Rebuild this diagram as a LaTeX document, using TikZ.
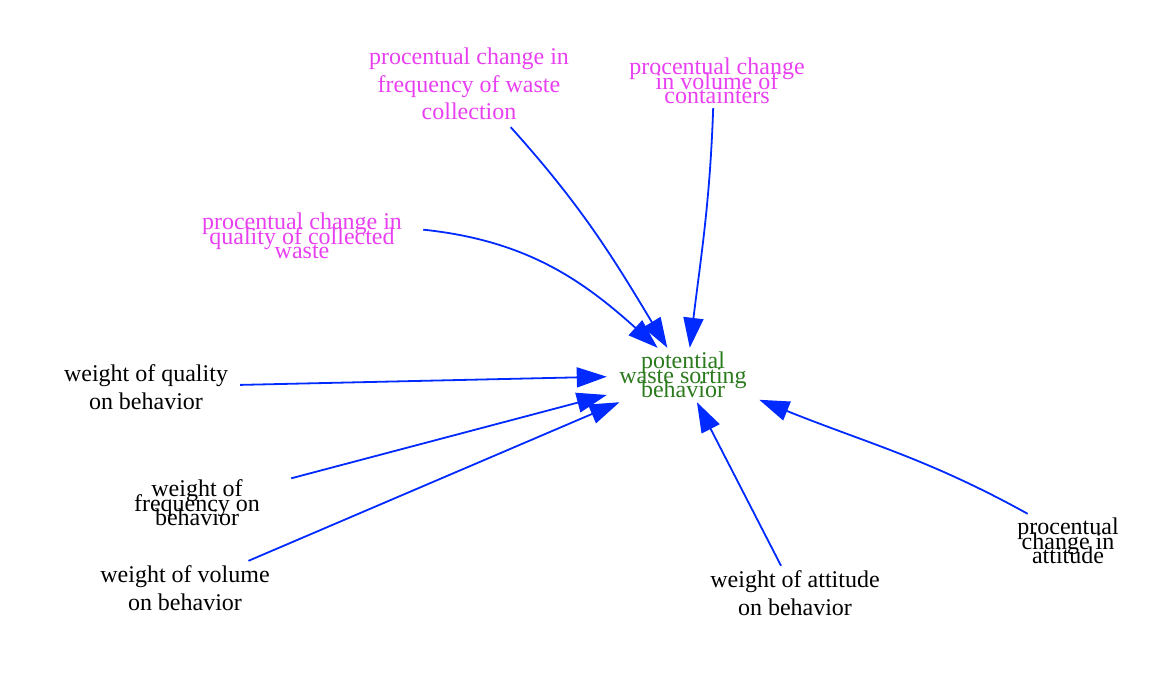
\documentclass[tikz,border=0pt]{standalone}
\usepackage{fontspec}
\setmainfont{Liberation Serif}
\usetikzlibrary{arrows.meta}
\definecolor{linkblue}{RGB}{0,42,255}
\definecolor{parmagenta}{RGB}{232,64,240}
\definecolor{stockgreen}{RGB}{44,122,30}
\newcommand\normalrows{\fontsize{24}{27.5}\selectfont}
\newcommand\tightrows{\fontsize{24}{14.5}\selectfont\lineskiplimit=-100pt\lineskip=0pt}

\begin{document}
\begin{tikzpicture}[x=1pt,y=1pt,
  var/.style={align=center,inner sep=0pt,minimum width=188pt,minimum height=54pt,font=\normalrows},
  tight/.style={font=\tightrows},
  change/.style={text=parmagenta},
  flow/.style={draw=linkblue,line width=1.8pt,-{Triangle[length=30pt,width=20pt]}}]
\useasboundingbox (0,0) rectangle (1164,-686);
% model variable
\node[var,tight,text=stockgreen,minimum width=152pt] (pot) at (683,-375) {potential\\waste sorting\\behavior};
% procentual changes
\node[var,change,minimum height=86pt] (fc) at (469,-84) {procentual change in\\frequency of waste\\collection};
\node[var,tight,change] (vc) at (717,-81) {procentual change\\in volume of\\containters};
\node[var,tight,change,minimum width=242pt] (qc) at (302,-236) {procentual change in\\quality of collected\\waste};
\node[var,tight] (ac) at (1068,-541) {procentual\\change in\\attitude};
% weights
\node[var] (wq) at (146,-387) {weight of quality\\on behavior};
\node[var,tight] (wf) at (197,-503) {weight of\\frequency on\\behavior};
\node[var] (wv) at (185,-588) {weight of volume\\on behavior};
\node[var] (wa) at (795,-593) {weight of attitude\\on behavior};
% links
\draw[flow] (fc.-46) to[out=-48,in=121] (pot.120);
\draw[flow] (vc.-98) to[out=-92,in=83] (pot.76);
\draw[flow] (qc.3) to[out=-6,in=138] (pot.133);
\draw[flow] (wq) -- (pot);
\draw[flow] (wf) -- (pot);
\draw[flow] (wv) -- (pot);
\draw[flow] (wa) -- (pot);
\draw[flow] (ac.146) to[out=151,in=-22] (pot.-18);
\end{tikzpicture}
\end{document}
